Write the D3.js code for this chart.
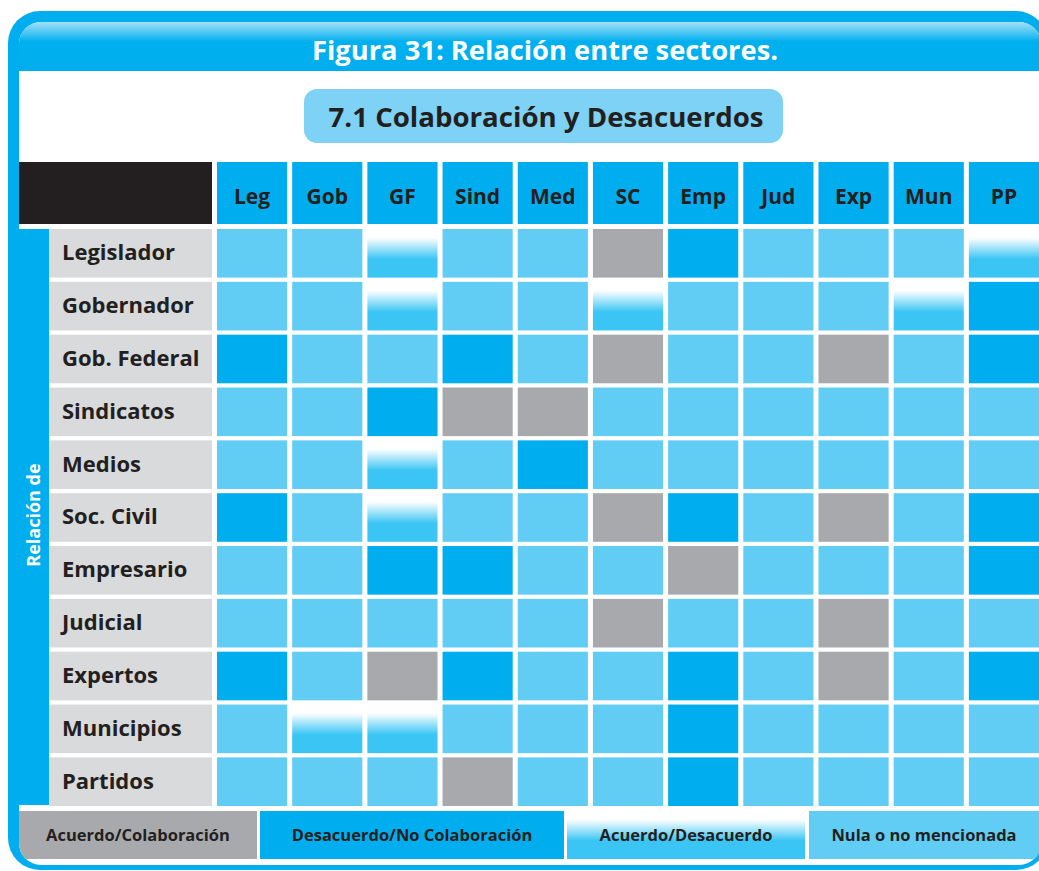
<!DOCTYPE html>
<html>
<head>
<meta charset="utf-8">
<script src="https://cdn.jsdelivr.net/npm/d3@7"></script>
<style>
  html, body { margin: 0; padding: 0; background: #fff; }
  svg { display: block; font-family: "Open Sans", "DejaVu Sans", sans-serif; font-weight: 700; }
</style>
</head>
<body>
<svg id="chart" width="1039" height="871"></svg>
<script>
// --- data ---
const columns = ["Leg", "Gob", "GF", "Sind", "Med", "SC", "Emp", "Jud", "Exp", "Mun", "PP"];
const rows = ["Legislador", "Gobernador", "Gob. Federal", "Sindicatos", "Medios", "Soc. Civil",
              "Empresario", "Judicial", "Expertos", "Municipios", "Partidos"];
// A = Acuerdo/Colaboración, D = Desacuerdo/No Colaboración, M = Acuerdo/Desacuerdo, N = Nula o no mencionada
const relations = [
  "NNMNNADNNNM",
  "NNMNNMNNNMD",
  "DNNDNANNAND",
  "NNDAANNNNNN",
  "NNMNDNNNNNN",
  "DNMNNADNAND",
  "NNDDNNANNND",
  "NNNNNANNANN",
  "DNADNNDNAND",
  "NMMNNNDNNNN",
  "NNNANNDNNNN"
];
const legendKeys = ["A", "D", "M", "N"];
const legendLabels = ["Acuerdo/Colaboración", "Desacuerdo/No Colaboración", "Acuerdo/Desacuerdo", "Nula o no mencionada"];
const title = "Figura 31: Relación entre sectores.";
const subtitle = "7.1 Colaboración y Desacuerdos";
const sideLabel = "Relación de";

// --- layout ---
const BLUE = "#00adee", LIGHT = "#61cdf5", GRAY = "#a8a9ad", LABEL_BG = "#d9dadb", INK = "#231f20";
const legendEdges = [19, 257, 260, 564, 567, 805, 809, 1045];

const svg = d3.select("#chart");
const defs = svg.append("defs");

const barGrad = defs.append("linearGradient").attr("id", "bar-grad")
  .attr("x1", 0).attr("y1", 0).attr("x2", 0).attr("y2", 1);
barGrad.append("stop").attr("offset", "0%").attr("stop-color", "#a3e0f9");
barGrad.append("stop").attr("offset", "40%").attr("stop-color", "#00b0ef");
barGrad.append("stop").attr("offset", "100%").attr("stop-color", "#00adee");

const mixGrad = defs.append("linearGradient").attr("id", "mix-grad")
  .attr("x1", 0).attr("y1", 0).attr("x2", 0).attr("y2", 1);
mixGrad.append("stop").attr("offset", "0%").attr("stop-color", "#ffffff");
mixGrad.append("stop").attr("offset", "18%").attr("stop-color", "#ffffff");
mixGrad.append("stop").attr("offset", "62%").attr("stop-color", "#3ac5f4");
mixGrad.append("stop").attr("offset", "100%").attr("stop-color", "#3ac5f4");

defs.append("clipPath").attr("id", "inner-clip")
  .append("rect").attr("x", 19).attr("y", 22).attr("width", 1022).attr("height", 843).attr("rx", 22);

const fillFor = { A: GRAY, D: BLUE, M: "url(#mix-grad)", N: LIGHT };

// frame
svg.append("rect").attr("x", 8).attr("y", 11).attr("width", 1040).attr("height", 859)
  .attr("rx", 32).attr("fill", BLUE);
svg.append("rect").attr("x", 19).attr("y", 22).attr("width", 1022).attr("height", 843)
  .attr("rx", 22).attr("fill", "#fff");

const inner = svg.append("g").attr("clip-path", "url(#inner-clip)");
inner.append("rect").attr("x", 19).attr("y", 22).attr("width", 1022).attr("height", 49)
  .attr("fill", "url(#bar-grad)");

svg.append("text").attr("x", 545).attr("y", 60).attr("text-anchor", "middle")
  .attr("font-size", 27).attr("fill", "#fff")
  .attr("textLength", 466).attr("lengthAdjust", "spacingAndGlyphs")
  .text(title);

// subtitle pill
svg.append("rect").attr("x", 304).attr("y", 89).attr("width", 479).attr("height", 54)
  .attr("rx", 13).attr("fill", "#7dd2f5");
svg.append("text").attr("x", 546).attr("y", 127).attr("text-anchor", "middle")
  .attr("font-size", 26).attr("fill", INK)
  .attr("textLength", 435).attr("lengthAdjust", "spacingAndGlyphs")
  .text(subtitle);

// scales
const x = d3.scaleBand().domain(columns).range([217, 1039]).paddingInner(0.067);
const y = d3.scaleBand().domain(rows).range([229, 806]).paddingInner(0.08);

// header row
svg.append("rect").attr("x", 19).attr("y", 162).attr("width", 193).attr("height", 62).attr("fill", INK);
const head = svg.append("g").selectAll("g").data(columns).join("g")
  .attr("transform", d => `translate(${x(d)},162)`);
head.append("rect").attr("width", x.bandwidth()).attr("height", 62).attr("fill", BLUE);
head.append("text").attr("x", x.bandwidth() / 2).attr("y", 42).attr("text-anchor", "middle")
  .attr("font-size", 21).attr("fill", INK).text(d => d);

// left strip
svg.append("rect").attr("x", 8).attr("y", 229).attr("width", 41).attr("height", 576).attr("fill", BLUE);
svg.append("text").attr("transform", "translate(40,515) rotate(-90)").attr("text-anchor", "middle")
  .attr("font-size", 18).attr("fill", "#fff").text(sideLabel);

// row labels
const rowG = svg.append("g").selectAll("g").data(rows).join("g")
  .attr("transform", d => `translate(49,${y(d)})`);
rowG.append("rect").attr("width", 163).attr("height", y.bandwidth()).attr("fill", LABEL_BG);
rowG.append("text").attr("x", 13).attr("y", y.bandwidth() / 2 + 7)
  .attr("font-size", 22).attr("fill", INK).text(d => d);

// cells
const cells = rows.flatMap((r, i) => columns.map((c, j) => ({ r, c, v: relations[i][j] })));
svg.append("g").selectAll("rect").data(cells).join("rect")
  .attr("x", d => x(d.c)).attr("y", d => y(d.r))
  .attr("width", x.bandwidth()).attr("height", y.bandwidth())
  .attr("fill", d => fillFor[d.v]);

// legend
const leg = inner.append("g").selectAll("g").data(legendKeys).join("g")
  .attr("transform", (d, i) => `translate(${legendEdges[2 * i]},811)`);
leg.append("rect").attr("width", (d, i) => legendEdges[2 * i + 1] - legendEdges[2 * i])
  .attr("height", 48).attr("fill", d => fillFor[d]);
leg.append("text")
  .attr("x", (d, i) => (Math.min(legendEdges[2 * i + 1], 1039) - legendEdges[2 * i]) / 2)
  .attr("y", 30).attr("text-anchor", "middle").attr("font-size", 16.5).attr("fill", INK)
  .text((d, i) => legendLabels[i]);
</script>
</body>
</html>
